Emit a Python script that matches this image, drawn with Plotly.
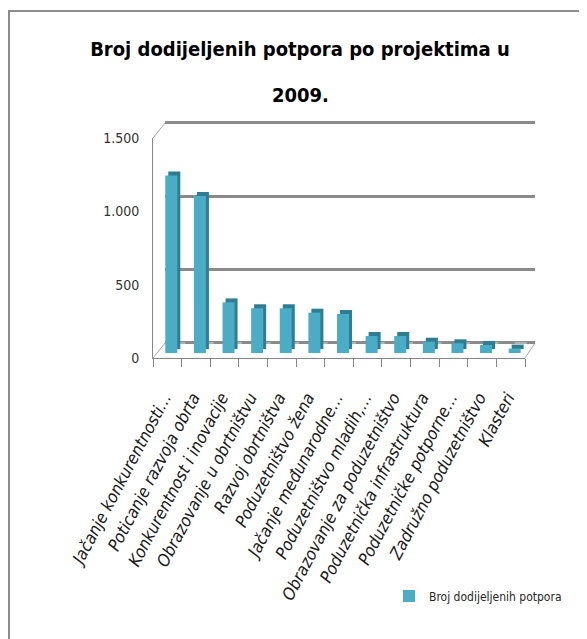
import plotly.graph_objects as go

categories = [
    "Jačanje konkurentnosti…",
    "Poticanje razvoja obrta",
    "Konkurentnost i inovacije",
    "Obrazovanje u obrtništvu",
    "Razvoj obrtništva",
    "Poduzetništvo žena",
    "Jačanje međunarodne…",
    "Poduzetništvo mladih,…",
    "Obrazovanje za poduzetništvo",
    "Poduzetnička infrastruktura",
    "Poduzetničke potporne…",
    "Zadružno poduzetništvo",
    "Klasteri",
]
values = [1210, 1070, 345, 305, 305, 275, 266, 116, 116, 77, 66, 55, 30]
series_name = "Broj dodijeljenih potpora"
y_tickvals = [0, 500, 1000, 1500]
y_ticktext = ["0", "500", "1.000", "1.500"]
title_line1 = "Broj dodijeljenih potpora po projektima u"
title_line2 = "2009."

OFF = 8  # page body margin
W, H = 587 - OFF, 639 - OFF
FONT = "DejaVu Sans Condensed, Roboto, sans-serif"


def fx(p):
    return (p - OFF) / W


def fy(p):
    return 1 - (p - OFF) / H


def px_x(a, b):
    return [fx(a), fx(b)]


def px_y(bottom, top):
    return [fy(bottom), fy(top)]


fig = go.Figure()

# side/top face of the pseudo-3D bars (drawn behind)
fig.add_trace(go.Bar(
    x=categories, y=values, xaxis="x3", yaxis="y3",
    marker=dict(color="#2f7d92", line=dict(width=0)),
    showlegend=False, hoverinfo="skip",
))
# front face
fig.add_trace(go.Bar(
    x=categories, y=values, xaxis="x4", yaxis="y4", name=series_name,
    marker=dict(color="#4bacc6", line=dict(width=0)),
    showlegend=True,
))
# invisible traces anchoring the axes
fig.add_trace(go.Bar(x=categories, y=[0] * len(categories), xaxis="x", yaxis="y",
                     showlegend=False, hoverinfo="skip", marker=dict(color="rgba(0,0,0,0)")))
fig.add_trace(go.Bar(x=categories, y=[0] * len(categories), xaxis="x2", yaxis="y2",
                     showlegend=False, hoverinfo="skip", marker=dict(color="rgba(0,0,0,0)")))

bargap = 0.58
common_cat = dict(type="category", categoryorder="array", categoryarray=categories)
yr = [-8, 1508]
pad = 220 / 1500 * 8
EDGE = "#a6a6a6"

fig.update_layout(
    width=W, height=H,
    margin=dict(l=0, r=0, t=0, b=0, autoexpand=False),
    paper_bgcolor="white", plot_bgcolor="rgba(0,0,0,0)",
    bargap=bargap,
    font=dict(family=FONT, color="#262626"),
    title=dict(text=title_line1, x=fx(300), xanchor="center", y=fy(49), yanchor="middle",
               font=dict(family=FONT, size=20, color="#000000", weight="bold")),
    annotations=[
        dict(text=title_line2, xref="paper", yref="paper", x=fx(300), y=fy(95),
             xanchor="center", yanchor="middle", showarrow=False,
             font=dict(family=FONT, size=20, color="#000000", weight="bold")),
    ],
    showlegend=True,
    legend=dict(x=fx(389), y=fy(596), xanchor="left", yanchor="middle",
                font=dict(family=FONT, size=12, color="#262626"),
                bgcolor="rgba(0,0,0,0)", itemwidth=30),
    # front axes (labels)
    xaxis=dict(domain=px_x(153, 525), **common_cat, showgrid=False, zeroline=False,
               showline=True, linecolor="#868686", linewidth=1,
               ticks="outside", tickson="boundaries", ticklen=8, tickcolor="#868686",
               tickangle=-62, ticklabelstandoff=22, ticklabelshift=-3,
               tickfont=dict(family=FONT, size=17, color="#1a1a1a", style="italic"),
               automargin=False, fixedrange=True, anchor="y"),
    yaxis=dict(domain=px_y(358, 138), range=[0, 1500], tickvals=y_tickvals, ticktext=y_ticktext,
               showgrid=False, zeroline=False, showline=True, linecolor="#868686", linewidth=1,
               ticks="", tickfont=dict(family=FONT, size=14, color="#333333"), ticklabelstandoff=10,
               automargin=False, fixedrange=True, anchor="x"),
    # back wall gridlines
    xaxis2=dict(domain=px_x(165, 535), **common_cat, showgrid=False, zeroline=False,
                showticklabels=False, showline=False, anchor="y2"),
    yaxis2=dict(domain=px_y(343 + pad, 123 - pad), range=yr, tickvals=y_tickvals,
                showgrid=True, gridcolor="#8a8a8a", gridwidth=3, zeroline=False,
                showticklabels=False, showline=False, anchor="x2"),
    # bars: side face
    xaxis3=dict(domain=px_x(160, 532), **common_cat, visible=False, anchor="y3"),
    yaxis3=dict(domain=px_y(349, 129), range=[0, 1500], visible=False, anchor="x3"),
    # bars: front face
    xaxis4=dict(domain=px_x(157, 529), **common_cat, visible=False, anchor="y4"),
    yaxis4=dict(domain=px_y(353, 133), range=[0, 1500], visible=False, anchor="x4"),
    shapes=[
        dict(type="rect", xref="paper", yref="paper", x0=fx(9), x1=1.2, y0=-0.2, y1=fy(11),
             line=dict(color="#8c8c8c", width=2), fillcolor="rgba(0,0,0,0)", layer="below"),
        # wall / floor edges of the 3-D frame
        dict(type="line", xref="paper", yref="paper", x0=fx(153), y0=fy(358), x1=fx(165), y1=fy(343),
             line=dict(color=EDGE, width=1), layer="below"),
        dict(type="line", xref="paper", yref="paper", x0=fx(153), y0=fy(138), x1=fx(165), y1=fy(123),
             line=dict(color=EDGE, width=1), layer="below"),
        dict(type="line", xref="paper", yref="paper", x0=fx(525), y0=fy(358), x1=fx(535), y1=fy(343),
             line=dict(color=EDGE, width=1), layer="below"),
    ],
)

fig.write_html("out.html")
